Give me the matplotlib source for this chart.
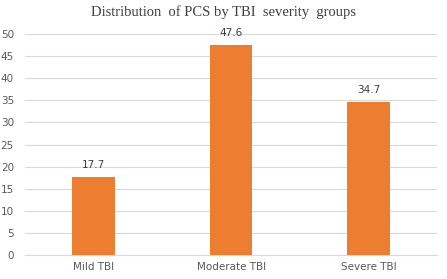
import matplotlib
matplotlib.use("Agg")
import matplotlib.pyplot as plt

groups = ['Mild TBI', 'Moderate TBI', 'Severe TBI']
pcs_pct = [17.7, 47.6, 34.7]
yticks = [0, 5, 10, 15, 20, 25, 30, 35, 40, 45, 50]

fig = plt.figure(figsize=(4.47, 2.79), dpi=100)
ax = fig.add_axes([0.056, 0.086, 0.922, 0.792])

x = range(len(groups))
bars = ax.bar(x, pcs_pct, width=0.31, color='#ED7D31', zorder=3)
for b, v in zip(bars, pcs_pct):
    ax.text(b.get_x() + b.get_width() / 2, v + 1.6, f'{v:.1f}',
            ha='center', va='bottom', fontsize=7.5, color='#404040')

ax.set_xlim(-0.5, 2.5)
ax.set_ylim(0, 50)
ax.set_yticks(yticks)
ax.set_xticks(list(x))
ax.set_xticklabels(groups)
ax.grid(axis='y', color='#d9d9d9', linewidth=0.8, zorder=0)
for s in ['top', 'right', 'left']:
    ax.spines[s].set_visible(False)
ax.spines['bottom'].set_color('#d9d9d9')
ax.tick_params(axis='both', length=0, labelsize=7.5, colors='#595959')
ax.tick_params(axis='y', pad=8)
ax.tick_params(axis='x', pad=5)

fig.text(0.5, 0.955, 'Distribution  of PCS by TBI  severity  groups',
         ha='center', va='center', fontsize=10.5, family='Liberation Serif',
         color='#404040')

fig.savefig('out.png', dpi=100)
